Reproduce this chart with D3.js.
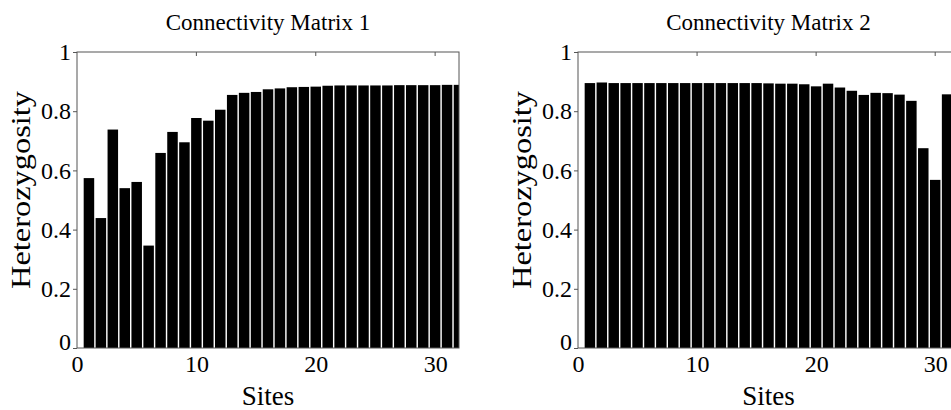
<!DOCTYPE html>
<html><head><meta charset="utf-8">
<script src="https://cdn.jsdelivr.net/npm/d3@7"></script>
<style>body{margin:0;background:#fff}svg{display:block}
svg text{font-family:'Liberation Serif','Times New Roman',serif;fill:#000}</style>
</head><body>
<svg id="c" width="951" height="410"></svg>
<script>
const sites = d3.range(1, 33);
const matrix1 = [0.574,0.439,0.738,0.540,0.561,0.346,0.659,0.730,0.695,0.777,0.768,0.805,0.855,0.862,0.865,0.874,0.877,0.881,0.882,0.883,0.886,0.887,0.887,0.887,0.887,0.887,0.888,0.888,0.888,0.888,0.889,0.889];
const matrix2 = [0.895,0.897,0.895,0.895,0.895,0.895,0.895,0.895,0.895,0.895,0.895,0.895,0.895,0.895,0.895,0.894,0.893,0.893,0.891,0.884,0.893,0.880,0.869,0.855,0.862,0.861,0.856,0.835,0.675,0.568,0.857,0.857];
const titles = ["Connectivity Matrix 1","Connectivity Matrix 2"];
const xTicks = [0,10,20,30];
const yTicks = [0,0.2,0.4,0.6,0.8,1];
const xLabel = "Sites", yLabel = "Heterozygosity";

const svg = d3.select("#c");
const panels = [
  {vals: matrix1, x0: 77, x1: 459, title: titles[0], id: "p1"},
  {vals: matrix2, x0: 578, x1: 959, title: titles[1], id: "p2"}
];
const yTop = 52, yBot = 348;
const axisColor = "#555";

panels.forEach(p => {
  const x = d3.scaleLinear().domain([0, 32]).range([p.x0, p.x1]);
  const y = d3.scaleLinear().domain([0, 1]).range([yBot, yTop]);
  const g = svg.append("g");
  g.append("clipPath").attr("id", "clip" + p.id).append("rect")
    .attr("x", p.x0).attr("y", yTop).attr("width", p.x1 - p.x0).attr("height", yBot - yTop);
  const bw = 0.88;
  g.append("g").attr("clip-path", `url(#clip${p.id})`)
    .selectAll("rect").data(p.vals).join("rect")
    .attr("x", (d, i) => x(sites[i] - bw / 2))
    .attr("width", x(bw) - x(0))
    .attr("y", d => y(d))
    .attr("height", d => y(0) - y(d))
    .attr("fill", "#000");
  g.append("rect").attr("x", p.x0).attr("y", yTop).attr("width", p.x1 - p.x0).attr("height", yBot - yTop)
    .attr("fill", "none").attr("stroke", axisColor).attr("stroke-width", 1);
  const ya = d3.axisLeft(y).tickValues(yTicks)
    .tickFormat(d => d === 0 || d === 1 ? d3.format("d")(d) : d3.format(".1f")(d))
    .tickSize(4).tickSizeOuter(0).tickPadding(2);
  const yg = g.append("g").attr("transform", `translate(${p.x0},0)`).call(ya);
  yg.attr("font-family", null).attr("font-size", null);
  yg.select(".domain").remove();
  yg.selectAll("line").attr("stroke", axisColor);
  yg.selectAll("text").style("font-size", "24px").attr("fill", "#000")
    .attr("dy", d => d === 0 ? "0.05em" : "0.32em");
  const xa = d3.axisBottom(x).tickValues(xTicks).tickFormat(d3.format("d")).tickSize(0).tickPadding(7);
  const xg = g.append("g").attr("transform", `translate(0,${yBot})`).call(xa);
  xg.attr("font-family", null).attr("font-size", null);
  xg.select(".domain").remove();
  xg.selectAll("text").style("font-size", "24px").attr("fill", "#000");
  g.append("g").selectAll("line").data(xTicks.filter(t => t > 0)).join("line")
    .attr("x1", d => x(d)).attr("x2", d => x(d)).attr("y1", yTop).attr("y2", yTop + 4)
    .attr("stroke", axisColor);
  g.append("text").attr("x", (p.x0 + p.x1) / 2).attr("y", 30).attr("text-anchor", "middle")
    .style("font-size", "23px").text(p.title);
  g.append("text").attr("x", (p.x0 + p.x1) / 2).attr("y", 405).attr("text-anchor", "middle")
    .style("font-size", "27px").text(xLabel);
  g.append("text").attr("transform", `translate(${p.x0 - 47},190) rotate(-90)`)
    .attr("text-anchor", "middle").style("font-size", "27px")
    .attr("textLength", 198).attr("lengthAdjust", "spacingAndGlyphs").text(yLabel);
});
</script>
</body></html>
